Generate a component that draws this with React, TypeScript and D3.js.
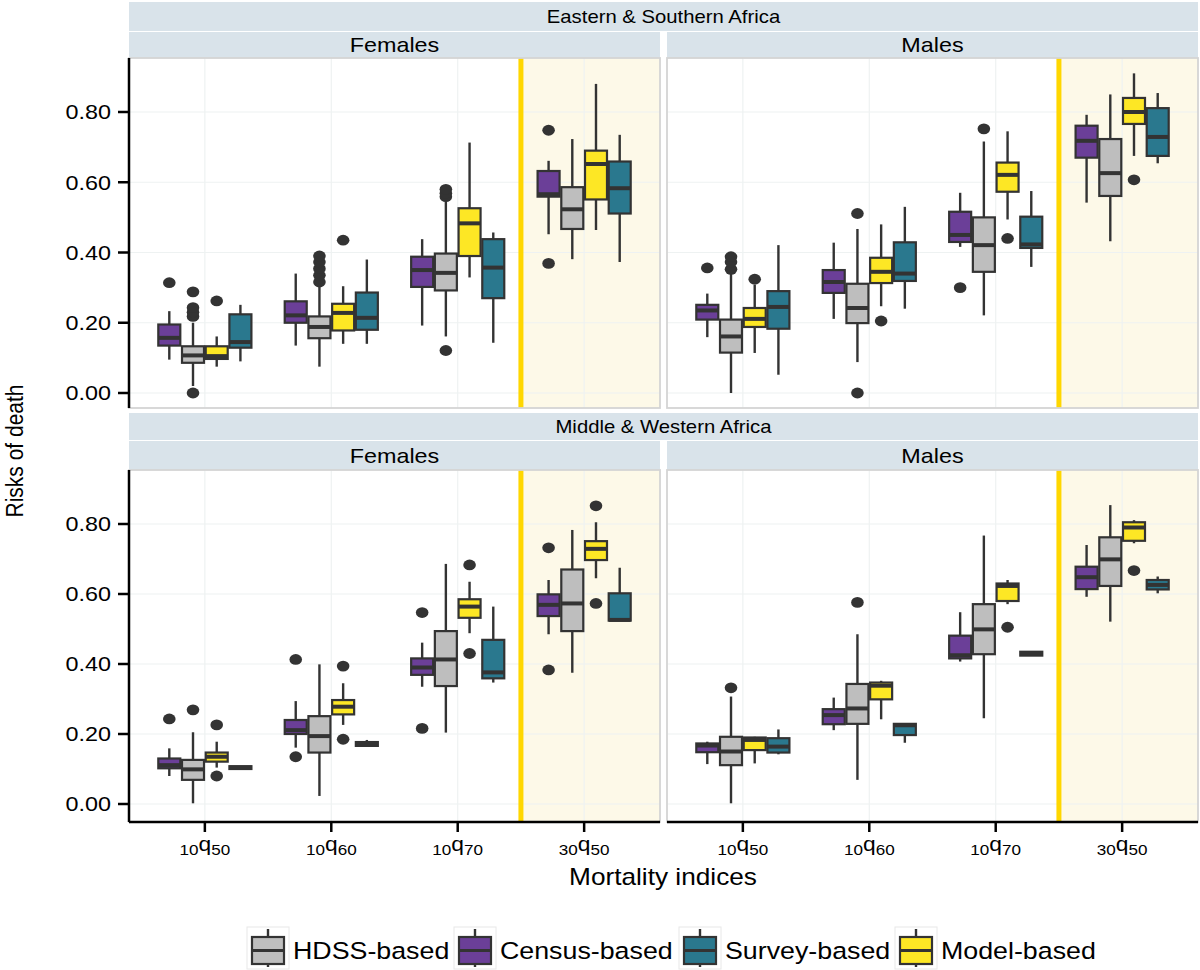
import React from "react";
import * as d3 from "d3";

// ---------- data ----------
const categoryParts: [string, string, string][] = [
  ["10", "q", "50"],
  ["10", "q", "60"],
  ["10", "q", "70"],
  ["30", "q", "50"],
];
// dodge order inside each category (alphabetical, as drawn)
const sources = ["Census-based", "HDSS-based", "Model-based", "Survey-based"];
const sourceColors = ["#6B3F98", "#BEBEBE", "#FDE725", "#2A788E"];
const legendOrder = ["HDSS-based", "Census-based", "Survey-based", "Model-based"];
const regions = ["Eastern & Southern Africa", "Middle & Western Africa"];
const sexes = ["Females", "Males"];
const yTicks = [0, 0.2, 0.4, 0.6, 0.8];

// [lower whisker, Q1, median, Q3, upper whisker] per category, per source
const esaFemales = [
  [[0.095, 0.135, 0.157, 0.195, 0.233], [0.02, 0.086, 0.107, 0.133, 0.2], [0.075, 0.097, 0.105, 0.133, 0.161], [0.09, 0.129, 0.145, 0.224, 0.251]],
  [[0.135, 0.2, 0.221, 0.261, 0.34], [0.075, 0.156, 0.188, 0.218, 0.31], [0.14, 0.178, 0.228, 0.254, 0.304], [0.14, 0.18, 0.214, 0.286, 0.38]],
  [[0.192, 0.302, 0.35, 0.388, 0.438], [0.161, 0.292, 0.342, 0.397, 0.55], [0.329, 0.39, 0.483, 0.526, 0.713], [0.143, 0.27, 0.357, 0.438, 0.457]],
  [[0.452, 0.559, 0.566, 0.632, 0.661], [0.381, 0.467, 0.523, 0.586, 0.723], [0.464, 0.551, 0.652, 0.69, 0.88], [0.373, 0.511, 0.583, 0.659, 0.735]],
];
const esaFemalesOut = [
  [[0.314], [0.0, 0.218, 0.23, 0.243, 0.288], [0.262], []],
  [[], [0.316, 0.335, 0.354, 0.373, 0.39], [0.435], []],
  [[], [0.121, 0.559, 0.569, 0.58], [], []],
  [[0.369, 0.748], [], [], []],
];
const esaMales = [
  [[0.159, 0.209, 0.235, 0.251, 0.283], [0.0, 0.115, 0.161, 0.209, 0.34], [0.114, 0.188, 0.211, 0.242, 0.309], [0.052, 0.183, 0.245, 0.29, 0.421]],
  [[0.211, 0.285, 0.316, 0.35, 0.428], [0.088, 0.199, 0.242, 0.311, 0.467], [0.247, 0.313, 0.345, 0.385, 0.48], [0.24, 0.319, 0.34, 0.429, 0.53]],
  [[0.416, 0.43, 0.45, 0.516, 0.57], [0.221, 0.345, 0.421, 0.5, 0.716], [0.494, 0.573, 0.621, 0.656, 0.745], [0.359, 0.413, 0.423, 0.502, 0.575]],
  [[0.542, 0.67, 0.718, 0.761, 0.792], [0.432, 0.561, 0.626, 0.723, 0.85], [0.675, 0.766, 0.8, 0.84, 0.91], [0.654, 0.675, 0.729, 0.811, 0.854]],
];
const esaMalesOut = [
  [[0.356], [0.352, 0.373, 0.388], [0.324], []],
  [[], [0.0, 0.511], [0.205], []],
  [[0.3], [0.752], [0.44], []],
  [[], [], [0.607], []],
];
const mwaFemales = [
  [[0.08, 0.102, 0.111, 0.13, 0.159], [0.002, 0.069, 0.099, 0.126, 0.205], [0.104, 0.121, 0.135, 0.147, 0.178], [0.1, 0.1, 0.104, 0.108, 0.108]],
  [[0.161, 0.2, 0.211, 0.24, 0.294], [0.023, 0.147, 0.194, 0.251, 0.399], [0.226, 0.256, 0.278, 0.297, 0.345], [0.166, 0.166, 0.172, 0.177, 0.183]],
  [[0.335, 0.369, 0.39, 0.416, 0.461], [0.204, 0.337, 0.413, 0.494, 0.686], [0.488, 0.532, 0.564, 0.585, 0.635], [0.347, 0.359, 0.376, 0.469, 0.564]],
  [[0.485, 0.537, 0.569, 0.599, 0.64], [0.375, 0.494, 0.573, 0.67, 0.783], [0.645, 0.697, 0.729, 0.751, 0.805], [0.524, 0.524, 0.526, 0.602, 0.675]],
];
const mwaFemalesOut = [
  [[0.243], [0.269], [0.08, 0.226], []],
  [[0.135, 0.413], [], [0.185, 0.394], []],
  [[0.216, 0.547], [], [0.43, 0.683], []],
  [[0.383, 0.732], [], [0.573, 0.852], []],
];
const mwaMales = [
  [[0.114, 0.148, 0.167, 0.173, 0.178], [0.002, 0.111, 0.15, 0.192, 0.307], [0.116, 0.154, 0.183, 0.19, 0.192], [0.142, 0.147, 0.164, 0.188, 0.213]],
  [[0.211, 0.228, 0.254, 0.271, 0.304], [0.069, 0.229, 0.273, 0.343, 0.485], [0.242, 0.299, 0.338, 0.347, 0.352], [0.175, 0.197, 0.225, 0.229, 0.23]],
  [[0.407, 0.416, 0.425, 0.481, 0.548], [0.245, 0.428, 0.499, 0.571, 0.767], [0.571, 0.58, 0.623, 0.63, 0.64], [0.424, 0.424, 0.43, 0.435, 0.435]],
  [[0.592, 0.614, 0.648, 0.678, 0.74], [0.521, 0.623, 0.699, 0.762, 0.854], [0.745, 0.752, 0.79, 0.805, 0.811], [0.602, 0.613, 0.626, 0.64, 0.65]],
];
const mwaMalesOut = [
  [[], [0.332], [], []],
  [[], [0.576], [], []],
  [[], [], [0.505], []],
  [[], [], [0.667], []],
];

const panelData = [
  { row: 0, col: 0, stats: esaFemales, out: esaFemalesOut },
  { row: 0, col: 1, stats: esaMales, out: esaMalesOut },
  { row: 1, col: 0, stats: mwaFemales, out: mwaFemalesOut },
  { row: 1, col: 1, stats: mwaMales, out: mwaMalesOut },
];

// ---------- layout ----------
const W = 1200;
const H = 970;
const SX = 1.14; // horizontal glyph stretch of the reference
const FONT = "'Liberation Sans', Arial, Helvetica, sans-serif";
const colX = [
  [129, 660],
  [667, 1198],
];
const rowY = [
  { outer: [2, 31], inner: [32, 58], panel: [58, 408], zero: 393, eight: 112 },
  { outer: [413, 440], inner: [441, 470], panel: [470, 822], zero: 804, eight: 524 },
];
const STRIP = "#D9E3EA";
const INK = "#333333";

function SText(props: {
  x: number;
  y: number;
  size: number;
  anchor?: string;
  children: React.ReactNode;
  fill?: string;
}) {
  const { x, y, size, anchor = "middle", children, fill = "#000" } = props;
  return (
    <text
      transform={`translate(${x},${y}) scale(${SX},1)`}
      fontSize={size}
      fontFamily={FONT}
      textAnchor={anchor}
      fill={fill}
    >
      {children}
    </text>
  );
}

function Panel({ p }: { p: (typeof panelData)[number] }) {
  const [x0, x1] = colX[p.col];
  const r = rowY[p.row];
  const [y0, y1] = r.panel;
  const x = d3.scaleLinear().domain([0.4, 4.6]).range([x0, x1]);
  const y = d3.scaleLinear().domain([0, 0.8]).range([r.zero, r.eight]);
  const unit = x(1) - x(0);
  const dodge = 0.1875 * unit;
  const halfW = 11;
  const shadeX = x(3.5);
  return (
    <g>
      <rect x={x0} y={y0} width={x1 - x0} height={y1 - y0} fill="#ffffff" />
      <rect x={shadeX} y={y0} width={x1 - shadeX} height={y1 - y0} fill="#FDF9E8" />
      {yTicks.map((t) => (
        <line key={"h" + t} x1={x0} x2={x1} y1={y(t)} y2={y(t)} stroke="#EEF2F2" strokeWidth={1.2} />
      ))}
      {categoryParts.map((_, i) => (
        <line key={"v" + i} x1={x(i + 1)} x2={x(i + 1)} y1={y0} y2={y1} stroke="#EEF2F2" strokeWidth={1.2} />
      ))}
      <line x1={shadeX} x2={shadeX} y1={y0} y2={y1} stroke="#FFD700" strokeWidth={5} />
      {p.stats.map((cat, ci) =>
        cat.map((s, si) => {
          const cx = x(ci + 1) + (si - 1.5) * dodge;
          const [lo, q1, med, q3, hi] = s;
          return (
            <g key={ci + "-" + si}>
              <line x1={cx} x2={cx} y1={y(hi)} y2={y(q3)} stroke={INK} strokeWidth={2.4} />
              <line x1={cx} x2={cx} y1={y(q1)} y2={y(lo)} stroke={INK} strokeWidth={2.4} />
              <rect
                x={cx - halfW}
                y={y(q3)}
                width={halfW * 2}
                height={Math.max(y(q1) - y(q3), 0.5)}
                fill={sourceColors[si]}
                stroke={INK}
                strokeWidth={2.2}
              />
              <line x1={cx - halfW} x2={cx + halfW} y1={y(med)} y2={y(med)} stroke={INK} strokeWidth={4} />
              {p.out[ci][si].map((o, oi) => (
                <ellipse key={oi} cx={cx} cy={y(o)} rx={6.3} ry={5.4} fill={INK} />
              ))}
            </g>
          );
        })
      )}
      <rect x={x0} y={y0} width={x1 - x0} height={y1 - y0} fill="none" stroke="#D4D4D4" strokeWidth={1.8} />
      {p.col === 0 && (
        <g>
          <line x1={x0} x2={x0} y1={y0} y2={y1} stroke="#000" strokeWidth={2.5} />
          {yTicks.map((t) => (
            <g key={"yt" + t}>
              <line x1={x0 - 11} x2={x0} y1={y(t)} y2={y(t)} stroke="#000" strokeWidth={2.5} />
              <SText x={x0 - 18} y={y(t) + 7.3} size={20.5} anchor="end">
                {d3.format(".2f")(t)}
              </SText>
            </g>
          ))}
        </g>
      )}
      {p.row === 1 && (
        <g>
          <line x1={x0} x2={x1} y1={y1} y2={y1} stroke="#000" strokeWidth={2.5} />
          {categoryParts.map((parts, i) => (
            <g key={"xt" + i}>
              <line x1={x(i + 1)} x2={x(i + 1)} y1={y1} y2={y1 + 10} stroke="#000" strokeWidth={2.5} />
              <SText x={x(i + 1)} y={y1 + 29} size={19}>
                <tspan fontSize={15} dy={4}>{parts[0]}</tspan>
                <tspan fontSize={20} dy={-4}>{parts[1]}</tspan>
                <tspan fontSize={15} dy={4}>{parts[2]}</tspan>
              </SText>
            </g>
          ))}
        </g>
      )}
    </g>
  );
}

function Strips() {
  return (
    <g>
      {rowY.map((r, ri) => (
        <g key={"s" + ri}>
          <rect x={colX[0][0]} y={r.outer[0]} width={colX[1][1] - colX[0][0]} height={r.outer[1] - r.outer[0]} fill={STRIP} />
          <SText x={(colX[0][0] + colX[1][1]) / 2} y={(r.outer[0] + r.outer[1]) / 2 + 6.3} size={17.8}>
            {regions[ri]}
          </SText>
          {colX.map(([a, b], ci) => (
            <g key={"i" + ci}>
              <rect x={a} y={r.inner[0]} width={b - a} height={r.inner[1] - r.inner[0]} fill={STRIP} />
              <SText x={(a + b) / 2} y={(r.inner[0] + r.inner[1]) / 2 + 7.3} size={20.5}>
                {sexes[ci]}
              </SText>
            </g>
          ))}
        </g>
      ))}
    </g>
  );
}

const legendKeyX = [247, 454, 679, 895];

function Legend() {
  return (
    <g>
      {legendOrder.map((name, i) => {
        const kx = legendKeyX[i];
        const si = sources.indexOf(name);
        const cx = kx + 21;
        return (
          <g key={name}>
            <rect x={kx} y={927} width={42} height={42} fill="#ffffff" stroke="#E8E8E8" strokeWidth={1} />
            <line x1={cx} x2={cx} y1={929} y2={967} stroke={INK} strokeWidth={2.4} />
            <rect x={kx + 5} y={937} width={32} height={27} fill={sourceColors[si]} stroke={INK} strokeWidth={2.2} />
            <line x1={kx + 5} x2={kx + 37} y1={950.5} y2={950.5} stroke={INK} strokeWidth={3} />
            <SText x={kx + 46} y={959} size={23.5} anchor="start">
              {name}
            </SText>
          </g>
        );
      })}
    </g>
  );
}

export default function App() {
  return (
    <div style={{ position: "absolute", left: 0, top: 0 }}>
      <svg width={W} height={H} viewBox={`0 0 ${W} ${H}`} style={{ display: "block", background: "#fff" }}>
        <Strips />
        {panelData.map((p, i) => (
          <Panel key={i} p={p} />
        ))}
        <SText x={663} y={885} size={23}>
          Mortality indices
        </SText>
        <text
          transform="translate(23,451) rotate(-90) scale(1,1.14)"
          fontSize={21}
          fontFamily={FONT}
          textAnchor="middle"
        >
          Risks of death
        </text>
        <Legend />
      </svg>
    </div>
  );
}
